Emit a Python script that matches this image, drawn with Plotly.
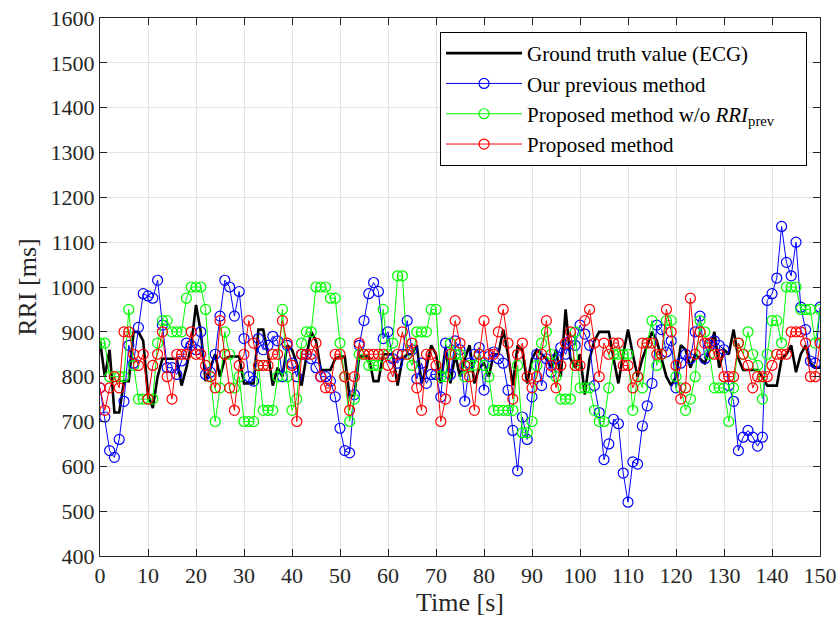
import plotly.graph_objects as go

time_s = list(range(0, 151))

ground_truth = [
    880, 800, 860, 720, 720, 790, 790, 900, 900, 880, 760, 730, 800, 840, 840, 840, 840, 780, 820,
    870, 960, 900, 790, 820, 850, 800, 840, 845, 845, 845, 785, 785, 785, 905, 905, 850, 780, 820,
    800, 870, 860, 830, 780, 845, 900, 880, 815, 815, 815, 840, 845, 845, 755, 760, 845, 845, 845,
    790, 790, 850, 850, 850, 780, 840, 850, 850, 870, 785, 820, 870, 850, 785, 865, 785, 850,
    800, 840, 870, 785, 820, 830, 800, 850, 850, 905, 850, 780, 870, 860, 785, 840, 860, 850, 840,
    820, 860, 800, 950, 840, 820, 850, 760, 840, 880, 900, 900, 900, 840, 785, 850, 905, 850, 800,
    840, 870, 900, 880, 840, 800, 780, 800, 870, 860, 820, 850, 840, 830, 860, 900, 820, 860,
    850, 905, 840, 815, 815, 815, 815, 800, 780, 780, 780, 840, 850, 870, 810, 850, 870, 830, 820, 820,
]

previous_method = [
    775, 710, 635, 620, 660, 745, 870, 830, 910, 985, 980, 975, 1015, 915, 820, 820, 805, 835, 875,
    870, 860, 900, 805, 810, 850, 935, 1015, 1000, 935, 990, 885, 800, 790, 885, 860, 870, 890, 880,
    800, 870, 830, 800, 850, 850, 840, 820, 800, 800, 790, 755, 685, 635, 630, 760, 870, 925, 985,
    1010, 990, 885, 900, 840, 830, 850, 925, 860, 795, 830, 785, 805, 805, 755, 875, 805, 880,
    860, 745, 830, 850, 865, 770, 845, 855, 840, 830, 770, 680, 590, 710, 660, 755, 850, 780, 840,
    810, 840, 865, 850, 880, 870, 915, 895, 870, 780, 720, 615, 650, 705, 695, 585, 520, 610, 605,
    690, 735, 785, 915, 905, 855, 880, 775, 830, 850, 840, 900, 935, 840, 870, 880, 870, 860,
    780, 745, 635, 665, 680, 665, 645, 665, 970, 985, 1020, 1135, 1055, 1025, 1100, 955, 905, 835, 830, 955,
]

proposed_wo_prev = [
    875, 875, 800, 800, 800, 800, 950, 825, 750, 750, 750, 750, 875, 925, 925, 900, 900, 900, 975,
    1000, 1000, 1000, 950, 800, 700, 775, 900, 850, 775, 800, 700, 700, 700, 825, 725, 725, 725, 800,
    950, 800, 725, 750, 875, 900, 900, 1000, 1000, 1000, 975, 975, 875, 800, 700, 750, 850, 850, 825,
    825, 825, 950, 850, 875, 1025, 1025, 850, 825, 900, 900, 900, 950, 950, 800, 800, 875, 850,
    850, 800, 825, 825, 850, 825, 800, 725, 725, 725, 725, 725, 825, 675, 675, 700, 825, 875, 900,
    850, 800, 750, 750, 750, 900, 775, 775, 775, 725, 700, 700, 775, 850, 850, 850, 850, 725, 800,
    775, 875, 925, 825, 850, 925, 925, 800, 775, 725, 750, 800, 925, 900, 850, 775, 775, 775,
    700, 775, 875, 850, 900, 850, 825, 750, 850, 925, 925, 875, 1000, 1000, 1000, 950, 950, 950, 875, 950,
]

proposed = [
    775, 725, 775, 800, 775, 900, 900, 850, 825, 850, 750, 825, 850, 900, 800, 750, 850, 850, 850,
    900, 850, 850, 825, 800, 775, 925, 850, 775, 725, 825, 850, 925, 875, 825, 825, 825, 850, 850,
    925, 875, 825, 700, 850, 850, 850, 875, 800, 775, 775, 850, 850, 800, 725, 800, 875, 850, 850,
    850, 850, 850, 825, 800, 850, 900, 850, 875, 775, 725, 850, 850, 825, 700, 750, 850, 925,
    875, 825, 800, 725, 850, 925, 850, 850, 900, 950, 875, 750, 850, 875, 800, 775, 800, 850, 925,
    825, 775, 825, 875, 900, 825, 825, 925, 950, 875, 800, 875, 850, 875, 875, 825, 825, 775, 800,
    875, 875, 875, 850, 850, 950, 900, 825, 750, 775, 975, 850, 900, 875, 875, 850, 850, 800,
    800, 800, 875, 850, 825, 775, 800, 800, 800, 825, 850, 850, 850, 900, 900, 900, 875, 800, 800, 875,
]

FONT = "Liberation Serif, Times New Roman, serif"
AX = "#262626"
PAD = "\u00a0" * 5

fig = go.Figure()
fig.add_trace(go.Scatter(x=time_s[:len(ground_truth)], y=ground_truth, mode="lines",
                         line=dict(color="black", width=2.6), name="Ground truth value (ECG)"))
fig.add_trace(go.Scatter(x=time_s[:len(previous_method)], y=previous_method, mode="lines+markers",
                         line=dict(color="#0000ff", width=1),
                         marker=dict(symbol="circle-open", size=10, color="#0000ff", line=dict(width=1.2)),
                         name="Our previous method"))
fig.add_trace(go.Scatter(x=time_s[:len(proposed_wo_prev)], y=proposed_wo_prev, mode="lines+markers",
                         line=dict(color="#00ff00", width=1),
                         marker=dict(symbol="circle-open", size=10, color="#00ff00", line=dict(width=1.2)),
                         name="Proposed method w/o <i>RRI</i><sub>prev</sub>" + PAD))
fig.add_trace(go.Scatter(x=time_s[:len(proposed)], y=proposed, mode="lines+markers",
                         line=dict(color="#ff0000", width=1),
                         marker=dict(symbol="circle-open", size=10, color="#ff0000", line=dict(width=1.2)),
                         name="Proposed method"))

axis_common = dict(
    ticks="inside", ticklen=7, tickwidth=1, tickcolor=AX,
    showline=True, linecolor=AX, linewidth=1, mirror="ticks",
    showgrid=True, gridcolor="#e3e3e3", gridwidth=1,
    zeroline=False, automargin=False,
    tickfont=dict(family=FONT, size=22, color=AX),
)

fig.update_layout(
    width=839, height=628,
    margin=dict(l=100, r=19, t=18, b=72),
    paper_bgcolor="white", plot_bgcolor="white",
    font=dict(family=FONT, size=22, color=AX),
    xaxis=dict(range=[0, 150], dtick=10, tick0=0,
               title=dict(text="Time [s]", font=dict(family=FONT, size=26, color=AX), standoff=4),
               **axis_common),
    yaxis=dict(range=[400, 1600], dtick=100, tick0=400,
               title=dict(text="RRI [ms]", font=dict(family=FONT, size=26, color=AX), standoff=6),
               **axis_common),
    legend=dict(x=0.982, xanchor="right", y=0.974, yanchor="top",
                bgcolor="white", bordercolor="black", borderwidth=1,
                font=dict(family=FONT, size=21, color="black"),
                itemwidth=76, tracegroupgap=0),
    showlegend=True,
)

fig.write_html("out.html")
